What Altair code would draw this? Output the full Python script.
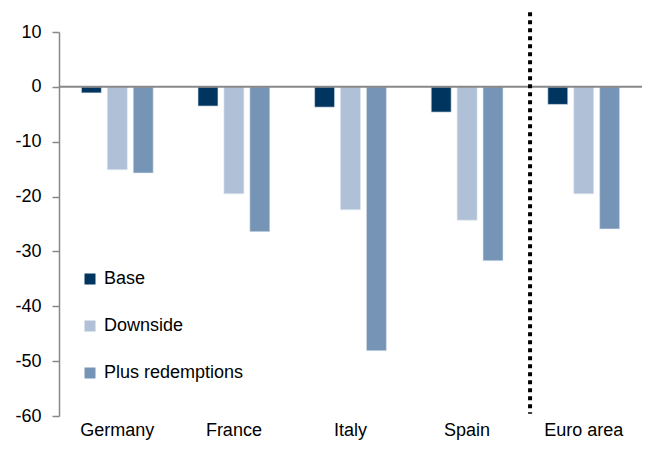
import altair as alt
import pandas as pd

categories = ["Germany", "France", "Italy", "Spain", "Euro area"]
series = ["Base", "Downside", "Plus redemptions"]
base = [-1.1, -3.5, -3.7, -4.6, -3.2]
downside = [-15.1, -19.5, -22.4, -24.3, -19.5]
plus_redemptions = [-15.7, -26.4, -48.1, -31.7, -25.9]
colors = ["#00355F", "#B0C1D7", "#7594B6"]
y_ticks = [10, 0, -10, -20, -30, -40, -50, -60]
# separator position in category-slot units (between Spain and Euro area)
separator_pos = [4.04]
separator_top = [13.6]
separator_bottom = [-59.6]

rows = []
for s, vals in zip(series, [base, downside, plus_redemptions]):
    for c, v in zip(categories, vals):
        rows.append({"category": c, "series": s, "value": v})
df = pd.DataFrame(rows)

FONT = "Liberation Sans"
FS = 18

x_scale = alt.Scale(domain=categories, paddingInner=1/3, paddingOuter=1/6)
y_scale = alt.Scale(domain=[-60, 10], nice=False, zero=False)

bars = alt.Chart(df).mark_bar(stroke="#dde6f0", strokeWidth=0.6).encode(
    x=alt.X("category:N", sort=categories, scale=x_scale,
            axis=alt.Axis(title=None, domain=False, ticks=False, labelAngle=0,
                          labelFontSize=FS, labelFont=FONT, labelColor="#000000",
                          labelPadding=5)),
    xOffset=alt.XOffset("series:N", sort=series,
                        scale=alt.Scale(domain=series, paddingInner=0.23, paddingOuter=0.115)),
    y=alt.Y("value:Q", scale=y_scale,
            axis=alt.Axis(title=None, values=y_ticks, grid=False, domainColor="#888888",
                          domainWidth=1.5, tickColor="#888888", tickWidth=1.5, tickSize=7,
                          labelFontSize=FS, labelFont=FONT, labelColor="#000000",
                          labelPadding=11, labelExpr="datum.value + ''")),
    color=alt.Color("series:N", sort=series,
                    scale=alt.Scale(domain=series, range=colors),
                    legend=alt.Legend(title=None, orient="none", legendX=22, legendY=238,
                                      symbolType="square", symbolSize=121,
                                      symbolStrokeWidth=0, labelFontSize=FS,
                                      labelFont=FONT, labelColor="#000000",
                                      rowPadding=29, labelOffset=5)),
)

zero_df = pd.DataFrame({"y": [0]})
zero_line = alt.Chart(zero_df).mark_rule(color="#888888", strokeWidth=2).encode(
    y=alt.Y("y:Q", scale=y_scale)
)

sep_df = pd.DataFrame({"pos": separator_pos, "top": separator_top, "bottom": separator_bottom})
separator = alt.Chart(sep_df).mark_rule(color="#000000", strokeWidth=4,
                                        strokeDash=[4, 4]).encode(
    x=alt.X("pos:Q", scale=alt.Scale(domain=[0, len(categories)], nice=False, zero=False),
            axis=None),
    y=alt.Y("top:Q", scale=y_scale),
    y2="bottom:Q",
)

chart = alt.layer(bars, zero_line, separator).resolve_scale(x="independent").properties(
    width=583, height=384,
    autosize=alt.AutoSizeParams(type="none"),
    padding={"left": 51, "top": 24, "right": 0, "bottom": 26},
).configure_view(stroke=None)

chart.save("out.html", embed_options={"renderer": "svg", "actions": False})
